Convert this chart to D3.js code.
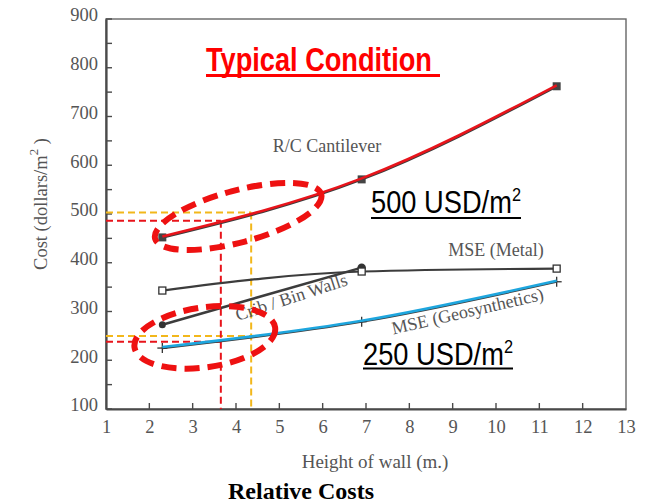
<!DOCTYPE html>
<html>
<head>
<meta charset="utf-8">
<script src="https://cdn.jsdelivr.net/npm/d3@7"></script>
<style>
html,body{margin:0;padding:0;background:#fff;}
svg{display:block;}
</style>
</head>
<body>
<svg id="chart" width="657" height="504"></svg>
<script>
// ---- data ----
const xTicks = [1,2,3,4,5,6,7,8,9,10,11,12,13];
const yTicks = [100,200,300,400,500,600,700,800,900];
const heights = [2.3, 6.9, 11.4];
const rcCantilever = [452, 571, 762];
const mseMetal = [343, 382, 388];
const cribHeights = [2.3, 6.9];
const cribBin = [273, 390];
const mseGeo = [225, 279, 361];
// guide lines (value readings)
const guideUpper = {yValueA: 503, yValueB: 486};
const guideLower = {yValueA: 250, yValueB: 238};
const guideX = {red: 3.65, yellow: 4.35};
// ellipse highlights in data coordinates: [cx, cy]
const highlightCenters = [[4.05, 495], [3.28, 247]];

const svg = d3.select("#chart");
const pLeft = 106, pRight = 626, pTop = 19, pBottom = 409;
const x = d3.scaleLinear().domain([1,13]).range([pLeft, pRight]);
const y = d3.scaleLinear().domain([100,900]).range([pBottom, pTop]);

const axisColor = "#4a4a4a";
const textColor = "#555";
const serif = "'Liberation Serif','Times New Roman',serif";
const sans = "'Liberation Sans',Arial,sans-serif";

// frame (top/right)
svg.append("rect").attr("x", pLeft).attr("y", pTop).attr("width", pRight-pLeft).attr("height", pBottom-pTop)
  .attr("fill","none").attr("stroke","#666").attr("stroke-width",1.4);

// y axis
const yAxis = d3.axisLeft(y).tickValues(yTicks).tickSize(0).tickPadding(8).tickFormat(d3.format("d"));
const gy = svg.append("g").attr("transform",`translate(${pLeft},0)`).call(yAxis);
gy.select(".domain").attr("stroke",axisColor).attr("stroke-width",2.2);
gy.selectAll("text").attr("font-family",serif).attr("font-size",18.5).attr("fill",textColor).attr("dy","0.1em");
// inward y ticks every 50
const yMinor = d3.range(100, 901, 50);
svg.append("g").selectAll("line").data(yMinor).join("line")
  .attr("x1", pLeft).attr("x2", pLeft+6).attr("y1", d=>y(d)).attr("y2", d=>y(d))
  .attr("stroke", axisColor).attr("stroke-width",1.4);

// x axis
const xAxis = d3.axisBottom(x).tickValues(xTicks).tickSize(0).tickPadding(11).tickFormat(d3.format("d"));
const gx = svg.append("g").attr("transform",`translate(0,${pBottom})`).call(xAxis);
gx.select(".domain").attr("stroke",axisColor).attr("stroke-width",2.2);
gx.selectAll("text").attr("font-family",serif).attr("font-size",18.5).attr("fill",textColor);
svg.append("g").selectAll("line").data(xTicks.slice(1,-1)).join("line")
  .attr("x1", d=>x(d)).attr("x2", d=>x(d)).attr("y1", pBottom).attr("y2", pBottom-6)
  .attr("stroke", axisColor).attr("stroke-width",1.4);

// axis titles
const yt = svg.append("text").attr("transform","translate(47,204) rotate(-90)")
  .attr("text-anchor","middle").attr("font-family",serif).attr("font-size",18.5).attr("fill",textColor);
yt.append("tspan").text("Cost (dollars/m");
yt.append("tspan").attr("dy",-9).attr("font-size",13).text("2");
yt.append("tspan").attr("dy",9).text(" )");

svg.append("text").attr("x",375).attr("y",468).attr("text-anchor","middle")
  .attr("font-family",serif).attr("font-size",19).attr("fill",textColor).text("Height of wall (m.)");
svg.append("text").attr("x",301).attr("y",499).attr("text-anchor","middle")
  .attr("font-family",serif).attr("font-size",24).attr("font-weight","bold").attr("fill","#000").text("Relative Costs");

// guide dashed lines
const yellow = "#f2b71b", red = "#e8141b";
function hdash(v, xEnd, color){
  svg.append("line").attr("x1",pLeft).attr("x2",x(xEnd)).attr("y1",y(v)).attr("y2",y(v))
    .attr("stroke",color).attr("stroke-width",2).attr("stroke-dasharray","7,4");
}
function vdash(xv, vTop, color){
  svg.append("line").attr("x1",x(xv)).attr("x2",x(xv)).attr("y1",y(vTop)).attr("y2",pBottom)
    .attr("stroke",color).attr("stroke-width",2).attr("stroke-dasharray","7,4");
}
hdash(guideUpper.yValueA, guideX.yellow, yellow);
hdash(guideLower.yValueA, guideX.yellow, yellow);
hdash(guideUpper.yValueB, guideX.red, red);
hdash(guideLower.yValueB, guideX.red, red);
vdash(guideX.yellow, guideUpper.yValueA, yellow);
vdash(guideX.red, guideUpper.yValueB, red);

// series lines (original gray)
const gray = "#3c3c3c";
const lineGen = (xs) => d3.line().x((d,i)=>x(xs[i])).y(d=>y(d)).curve(d3.curveMonotoneX);
function series(xs, vals, w){
  svg.append("path").datum(vals).attr("d", lineGen(xs)).attr("fill","none")
    .attr("stroke",gray).attr("stroke-width",w);
}
series(heights, rcCantilever, 2.6);
series(heights, mseMetal, 2.2);
series(cribHeights, cribBin, 2.6);
series(heights, mseGeo, 2.2);

// markers
svg.append("g").selectAll("rect").data(rcCantilever).join("rect")
  .attr("x",(d,i)=>x(heights[i])-4).attr("y",d=>y(d)-4).attr("width",8).attr("height",8).attr("fill","#444");
svg.append("g").selectAll("circle").data(cribBin).join("circle")
  .attr("cx",(d,i)=>x(cribHeights[i])).attr("cy",d=>y(d)).attr("r",(d,i)=>i==0?3.5:4.2).attr("fill","#333");
svg.append("g").selectAll("rect").data(mseMetal).join("rect")
  .attr("x",(d,i)=>x(heights[i])-3.5).attr("y",d=>y(d)-3.5).attr("width",7).attr("height",7)
  .attr("fill","#fff").attr("stroke","#333").attr("stroke-width",1.3);
const plusG = svg.append("g");
mseGeo.forEach((d,i)=>{
  const cx = x(heights[i]), cy = y(d);
  plusG.append("line").attr("x1",cx-5).attr("x2",cx+5).attr("y1",cy).attr("y2",cy).attr("stroke","#333").attr("stroke-width",1.3);
  plusG.append("line").attr("x1",cx).attr("x2",cx).attr("y1",cy-5).attr("y2",cy+5).attr("stroke","#333").attr("stroke-width",1.3);
});

// colored overlays
svg.append("path").datum(rcCantilever).attr("d", lineGen(heights)).attr("fill","none")
  .attr("stroke","#e8141b").attr("stroke-width",2.6).attr("transform","translate(0,-1)");
svg.append("path").datum(mseGeo).attr("d", lineGen(heights)).attr("fill","none")
  .attr("stroke","#1ea6de").attr("stroke-width",2.6).attr("transform","translate(0,-1)");

// series labels
function label(txt, cx, cy, rot){
  svg.append("text").attr("transform",`translate(${cx},${cy}) rotate(${rot})`)
    .attr("text-anchor","middle").attr("dominant-baseline","middle")
    .attr("font-family",serif).attr("font-size",18).attr("fill","#555").text(txt);
}
label("R/C Cantilever", 327, 148, 0);
label("MSE (Metal)", 496, 252, 0);
label("Crib / Bin Walls", 292, 299, -18);
label("MSE (Geosynthetics)", 468, 313, -13);

// highlight ellipses
const ell = [{rx:86, ry:26, rot:-15}, {rx:71, ry:30, rot:-8}];
highlightCenters.forEach((c,i)=>{
  svg.append("ellipse").attr("cx",0).attr("cy",0).attr("rx",ell[i].rx).attr("ry",ell[i].ry)
    .attr("transform",`translate(${x(c[0])},${y(c[1])}) rotate(${ell[i].rot})`)
    .attr("fill","none").attr("stroke","#ee1111").attr("stroke-width",6).attr("stroke-dasharray","15,8");
});

// annotation texts with underline (condensed sans, squeezed to target width)
function uText(parts, xPos, yBase, size, weight, color, targetW, ulY, ulW, ulExtra){
  const g = svg.append("g");
  const t = g.append("text").attr("x",0).attr("y",0).attr("font-family",sans)
    .attr("font-size",size).attr("font-weight",weight).attr("fill",color);
  parts.forEach(p=>{
    const ts = t.append("tspan").text(p.t);
    if(p.sup){ ts.attr("font-size",size*0.6).attr("dy",-size*0.4); }
  });
  const w = t.node().getComputedTextLength();
  const sx = targetW / w;
  g.attr("transform",`translate(${xPos},${yBase}) scale(${sx},1)`);
  svg.append("line").attr("x1",xPos).attr("x2",xPos+targetW+ulExtra).attr("y1",ulY).attr("y2",ulY)
    .attr("stroke",color).attr("stroke-width",ulW);
}
uText([{t:"Typical Condition"}], 206, 71, 33, "bold", "#ff0000", 226, 75.5, 3, 8);
uText([{t:"500 USD/m"},{t:"2",sup:true}], 371, 213, 31, "normal", "#000", 150, 218, 2, 0);
uText([{t:"250 USD/m"},{t:"2",sup:true}], 363, 365, 31, "normal", "#000", 150, 368.5, 2, 0);
</script>
</body>
</html>
